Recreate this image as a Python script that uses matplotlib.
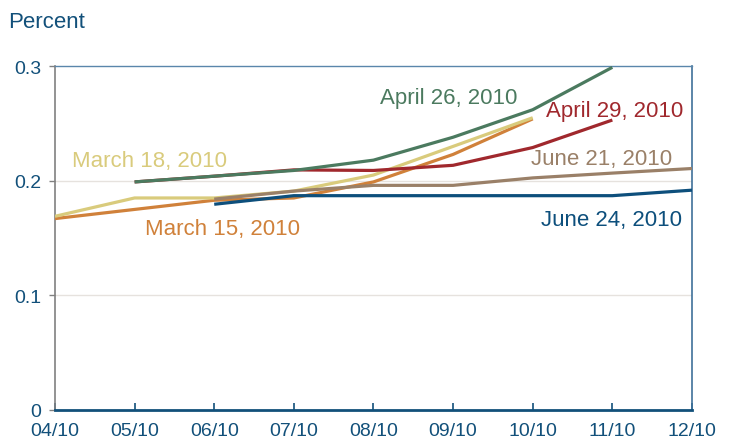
"""
Forward rate paths by date of forecast
"""
import numpy as np
import matplotlib
matplotlib.use("Agg")
import matplotlib.pyplot as plt

months = ["04/10", "05/10", "06/10", "07/10", "08/10", "09/10", "10/10", "11/10", "12/10"]

# each series: (start month index, values)
march_15 = [0.167, 0.175, 0.183, 0.185, 0.199, 0.223, 0.254]
march_18 = [0.169, 0.185, 0.185, 0.191, 0.205, 0.230, 0.255]
april_26 = [0.199, 0.204, 0.209, 0.218, 0.238, 0.262, 0.299]
april_29 = [0.199, 0.204, 0.2095, 0.209, 0.2135, 0.229, 0.253]
june_21 = [0.184, 0.191, 0.196, 0.196, 0.2025, 0.2067, 0.2107]
june_24 = [0.1795, 0.187, 0.187, 0.187, 0.187, 0.187, 0.1918]

TEXT = "#12507a"
FAM = ["Liberation Sans", "DejaVu Sans"]

series = [
	("March 15, 2010", 0, march_15, "#d0813a", (1.13, 0.158)),
	("March 18, 2010", 0, march_18, "#d9cb7c", (0.22, 0.218)),
	("June 21, 2010", 2, june_21, "#9a8068", (5.98, 0.219)),
	("June 24, 2010", 2, june_24, "#0d4f7c", (6.1, 0.166)),
	("April 29, 2010", 1, april_29, "#a0282d", (6.17, 0.261)),
	("April 26, 2010", 1, april_26, "#4b7a5f", (4.08, 0.273)),
]


def main():
	fig = plt.figure(figsize=(7.3, 4.39), dpi=100)
	ax = fig.add_axes([0.0753, 0.0638, 0.8726, 0.7832])

	for label, start, vals, color, pos in series:
		xs = np.arange(start, start + len(vals))
		ax.plot(xs, vals, color=color, lw=2.3, solid_capstyle="butt", zorder=3)
		ax.text(pos[0], pos[1], label, color=color, fontsize=16,
				family=FAM, va="center", ha="left")

	ax.set_xlim(0, 8)
	ax.set_ylim(0, 0.3)
	ax.set_xticks(range(len(months)))
	ax.set_xticklabels(months, family=FAM, fontsize=14, color=TEXT)
	ax.set_yticks([0, 0.1, 0.2, 0.3])
	ax.set_yticklabels(["0", "0.1", "0.2", "0.3"], family=FAM, fontsize=14, color=TEXT)
	for y in (0.1, 0.2):
		ax.axhline(y, color="#e6e2de", lw=1.0, zorder=1)

	ax.tick_params(axis="x", direction="in", length=5, width=1.2, color=TEXT, pad=9)
	ax.tick_params(axis="y", direction="out", length=4, width=1.0, color="#808080", pad=6)

	ax.spines["left"].set_color("#808080")
	ax.spines["left"].set_linewidth(1.2)
	ax.spines["top"].set_color("#5a86ab")
	ax.spines["top"].set_linewidth(1.0)
	ax.spines["right"].set_color("#3f719a")
	ax.spines["right"].set_linewidth(1.2)
	ax.spines["bottom"].set_color(TEXT)
	ax.spines["bottom"].set_linewidth(2.0)

	fig.text(8 / 730, 1 - 22 / 439, "Percent", color=TEXT, fontsize=16,
			 family=FAM, va="center", ha="left")

	fig.savefig("out.png", dpi=100)


if __name__ == "__main__":
	main()
